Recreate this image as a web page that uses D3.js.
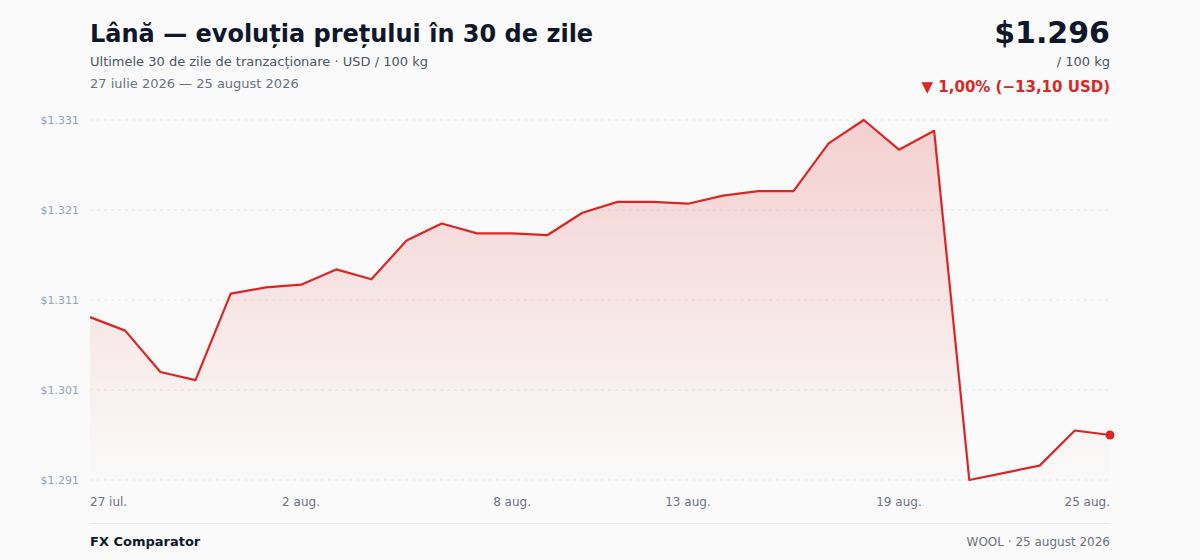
<!DOCTYPE html>
<html lang="ro">
<head>
<meta charset="UTF-8" />
<title>Lână — evoluția prețului</title>
<script src="https://d3js.org/d3.v7.min.js"></script>
<style>
  html, body { margin: 0; padding: 0; background: #fafafa; }
  svg { display: block; font-family: "DejaVu Sans", sans-serif; }
</style>
</head>
<body>
<svg id="chart" width="1200" height="560"></svg>
<script>
  // 30 zile consecutive, 27 iulie - 25 august 2026
  const startDate = new Date(2026, 6, 27)
  const prices = [
    1309.1, 1307.6, 1303.0, 1302.1, 1311.7, 1312.4, 1312.7, 1314.4, 1313.3, 1317.6,
    1319.5, 1318.4, 1318.4, 1318.2, 1320.7, 1321.9, 1321.9, 1321.7, 1322.6, 1323.1,
    1323.1, 1328.4, 1331.0, 1327.7, 1329.8, 1291.0, 1291.8, 1292.6, 1296.5, 1296.0
  ]
  const yTicks = [1291, 1301, 1311, 1321, 1331]
  const xTickIdx = [0, 6, 12, 17, 23, 29]
  const monthNames = ['ian.', 'feb.', 'mar.', 'apr.', 'mai', 'iun.', 'iul.', 'aug.', 'sept.', 'oct.', 'nov.', 'dec.']

  const data = prices.map((v, i) => ({ date: d3.timeDay.offset(startDate, i), value: v }))

  const width = 1200
  const height = 560
  const margin = { top: 120, right: 90, bottom: 80, left: 90 }

  const ro = d3.formatLocale({ decimal: ',', thousands: '.', grouping: [3], currency: ['$', ''] })
  const fmtPrice = ro.format('$,.0f')
  const fmtDec = ro.format(',.2f')

  const svg = d3.select('#chart')

  const x = d3.scaleTime()
    .domain(d3.extent(data, d => d.date))
    .range([margin.left, width - margin.right])

  const y = d3.scaleLinear()
    .domain([yTicks[0], yTicks[yTicks.length - 1]])
    .range([height - margin.bottom, margin.top])

  // gradient for the area
  const defs = svg.append('defs')
  const grad = defs.append('linearGradient')
    .attr('id', 'areaGrad')
    .attr('x1', 0).attr('y1', 0).attr('x2', 0).attr('y2', 1)
  grad.append('stop').attr('offset', '0%').attr('stop-color', '#dc2626').attr('stop-opacity', 0.2)
  grad.append('stop').attr('offset', '100%').attr('stop-color', '#dc2626').attr('stop-opacity', 0)

  // grid lines + y labels
  const yAxis = svg.append('g')
  yAxis.selectAll('line')
    .data(yTicks)
    .join('line')
    .attr('x1', margin.left)
    .attr('x2', width - margin.right)
    .attr('y1', d => y(d))
    .attr('y2', d => y(d))
    .attr('stroke', '#e5e7eb')
    .attr('stroke-dasharray', '3,4')
  yAxis.selectAll('text')
    .data(yTicks)
    .join('text')
    .attr('x', 79)
    .attr('y', d => y(d))
    .attr('dy', '0.35em')
    .attr('text-anchor', 'end')
    .attr('font-size', 11)
    .attr('fill', '#94a3b8')
    .text(d => fmtPrice(d))

  // x labels
  svg.append('g')
    .selectAll('text')
    .data(xTickIdx)
    .join('text')
    .attr('x', i => x(data[i].date))
    .attr('y', 506)
    .attr('text-anchor', (i, k) => k === 0 ? 'start' : (k === xTickIdx.length - 1 ? 'end' : 'middle'))
    .attr('font-size', 12)
    .attr('fill', '#6b7280')
    .text(i => data[i].date.getDate() + ' ' + monthNames[data[i].date.getMonth()])

  // area + line
  const area = d3.area()
    .x(d => x(d.date))
    .y0(y.range()[0])
    .y1(d => y(d.value))
  svg.append('path')
    .datum(data)
    .attr('d', area)
    .attr('fill', 'url(#areaGrad)')

  const line = d3.line()
    .x(d => x(d.date))
    .y(d => y(d.value))
  svg.append('path')
    .datum(data)
    .attr('d', line)
    .attr('fill', 'none')
    .attr('stroke', '#dc2626')
    .attr('stroke-width', 2.2)
    .attr('stroke-linejoin', 'round')

  const last = data[data.length - 1]
  svg.append('circle')
    .attr('cx', x(last.date))
    .attr('cy', y(last.value))
    .attr('r', 4.5)
    .attr('fill', '#dc2626')

  // header
  svg.append('text')
    .attr('x', 90).attr('y', 42)
    .attr('font-size', 24).attr('font-weight', 'bold').attr('fill', '#0f172a')
    .text('Lână — evoluția prețului în 30 de zile')
  svg.append('text')
    .attr('x', 90).attr('y', 66)
    .attr('font-size', 13).attr('fill', '#4b5563')
    .text('Ultimele 30 de zile de tranzacționare · USD / 100 kg')
  svg.append('text')
    .attr('x', 90).attr('y', 88)
    .attr('font-size', 13).attr('fill', '#6b7280')
    .text('27 iulie 2026 — 25 august 2026')

  const first = data[0]
  const diff = last.value - first.value
  const pct = diff / first.value * 100
  svg.append('text')
    .attr('x', 1110).attr('y', 43)
    .attr('text-anchor', 'end')
    .attr('font-size', 30).attr('font-weight', 'bold').attr('fill', '#0f172a')
    .text(fmtPrice(last.value))
  svg.append('text')
    .attr('x', 1110).attr('y', 66)
    .attr('text-anchor', 'end')
    .attr('font-size', 13).attr('fill', '#4b5563')
    .text('/ 100 kg')
  svg.append('text')
    .attr('x', 1110).attr('y', 92)
    .attr('text-anchor', 'end')
    .attr('font-size', 15).attr('font-weight', 'bold').attr('fill', '#dc2626')
    .text('▼ ' + fmtDec(Math.abs(pct)) + '% (−' + fmtDec(Math.abs(diff)) + ' USD)')

  // footer
  svg.append('line')
    .attr('x1', 90).attr('x2', 1110)
    .attr('y1', 523.5).attr('y2', 523.5)
    .attr('stroke', '#e5e7eb')
  svg.append('text')
    .attr('x', 90).attr('y', 546)
    .attr('font-size', 13).attr('font-weight', 'bold').attr('fill', '#0f172a')
    .text('FX Comparator')
  svg.append('text')
    .attr('x', 1110).attr('y', 546)
    .attr('text-anchor', 'end')
    .attr('font-size', 12).attr('fill', '#6b7280')
    .text('WOOL · 25 august 2026')
</script>
</body>
</html>
